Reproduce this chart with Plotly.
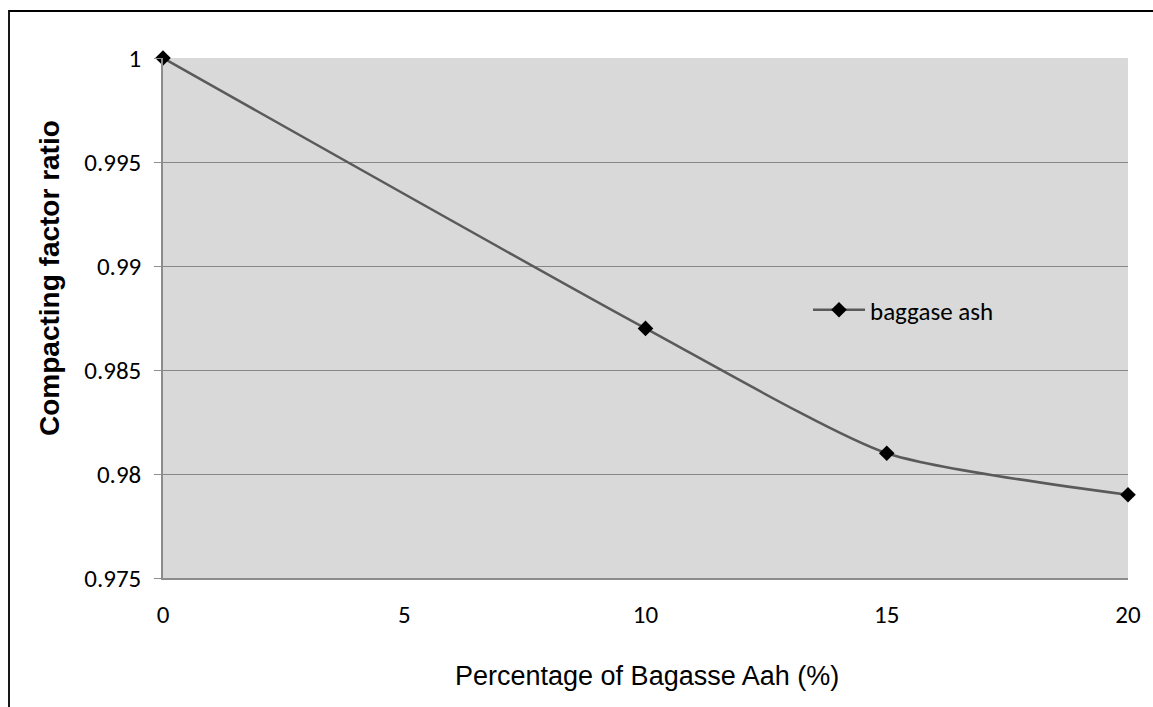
import plotly.graph_objects as go

x_pct = [0, 10, 15, 20]
cf_ratio = [1.0, 0.987, 0.981, 0.979]
series_name = "baggase ash"
y_ticks = [0.975, 0.98, 0.985, 0.99, 0.995, 1.0]
y_tick_text = ["0.975", "0.98", "0.985", "0.99", "0.995", "1"]
x_ticks = [0, 5, 10, 15, 20]
x_title = "Percentage of Bagasse Aah (%)"
y_title = "<b>Compacting factor ratio</b>"

tick_font = dict(family="Carlito, Lato, sans-serif", size=25, color="black")
title_font_family = "Liberation Sans, Arial, sans-serif"

W, H = 1153, 707
L, R, T, B = 163, 25, 58, 129
PW, PH = W - L - R, H - T - B


def px(xp):
    return (xp - L) / PW


def py(yp):
    return (H - B - yp) / PH


fig = go.Figure()
fig.add_trace(go.Scatter(
    x=x_pct, y=cf_ratio, mode="lines+markers", name=series_name,
    line=dict(color="#5a5a5a", width=2.5, shape="spline", smoothing=0.6),
    marker=dict(symbol="diamond", size=12, color="black"),
    cliponaxis=False,
))

fig.update_layout(
    width=W, height=H,
    margin=dict(l=L, r=R, t=T, b=B),
    paper_bgcolor="white", plot_bgcolor="#d9d9d9",
    showlegend=True,
    legend=dict(x=px(808), y=py(310), xanchor="left", yanchor="middle", itemwidth=52,
                bgcolor="rgba(0,0,0,0)",
                font=dict(family="Carlito, Lato, sans-serif", size=25, color="black")),
    xaxis=dict(range=[0, 20], tickvals=x_ticks, showgrid=False, zeroline=False,
               showline=True, linecolor="#8c8c8c", linewidth=1.5,
               ticks="", tickfont=tick_font, ticklabelstandoff=13),
    yaxis=dict(range=[0.975, 1.0], tickvals=y_ticks, ticktext=y_tick_text,
               showgrid=True, gridcolor="#878787", gridwidth=1.2, zeroline=False,
               showline=True, linecolor="#8c8c8c", linewidth=1.5,
               ticks="outside", ticklen=7, tickcolor="#8c8c8c", tickfont=tick_font,
               ticklabelstandoff=8),
    annotations=[
        dict(text=x_title, xref="paper", yref="paper", x=px(647), y=py(676),
             xanchor="center", yanchor="middle", showarrow=False,
             font=dict(family=title_font_family, size=27, color="black")),
        dict(text=y_title, xref="paper", yref="paper", x=px(49), y=py(278),
             xanchor="center", yanchor="middle", showarrow=False, textangle=-90,
             font=dict(family=title_font_family, size=28, color="black")),
    ],
    shapes=[dict(type="rect", xref="paper", yref="paper",
                 x0=px(9), x1=px(1170), y0=py(730), y1=py(11),
                 line=dict(color="black", width=1.8), fillcolor="rgba(0,0,0,0)", layer="below")],
)

fig.write_html("out.html")
